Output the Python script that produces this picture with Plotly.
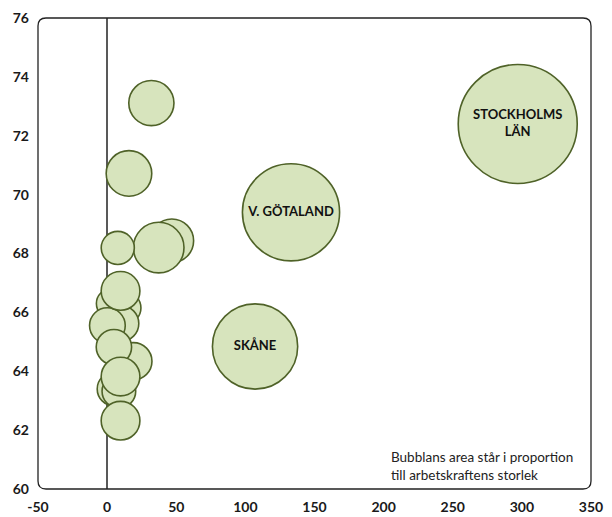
import plotly.graph_objects as go

# Data (drawing order: back to front)
names = ["", "", "", "", "",
         "STOCKHOLMS<br>LÄN", "V. GÖTALAND", "SKÅNE",
         "", "", "", "", "", "", "", "", "", "", ""]
x_vals = [46.8, 37.3, 7.7, 32.0, 15.8,
          297.0, 133.0, 107.0,
          13.0, 3.0, 10.0, 0.2, 9.7, 19.0, 4.9, 5.0, 8.5, 9.7, 9.7]
y_vals = [68.43, 68.20, 68.19, 73.11, 70.72,
          72.40, 69.40, 64.84,
          66.15, 66.30, 65.62, 65.55, 66.73, 64.34, 64.82, 63.40, 63.32, 63.82, 62.32]
labor_force = [161, 217, 93, 173, 176,
               1200, 800, 616,
               85, 75, 108, 108, 127, 117, 106, 96, 96, 127, 127]

x_ticks = [-50, 0, 50, 100, 150, 200, 250, 300, 350]
x_tick_text = ["-50", "0", "50", "100", "150", "200", "250", "300", "350"]
y_ticks = [60, 62, 64, 66, 68, 70, 72, 74, 76]
note = "Bubblans area står i proportion<br>till arbetskraftens storlek"

FONT = "Lato"
MAX_DIAM = 119

fig = go.Figure(go.Scatter(
    x=x_vals, y=y_vals, mode="markers+text", text=names,
    textposition="middle center",
    textfont=dict(family=FONT, size=13, color="#111111", weight="bold"),
    marker=dict(size=labor_force, sizemode="area",
                sizeref=2 * max(labor_force) / MAX_DIAM**2,
                color="#d7e4bd", opacity=1,
                line=dict(color="#4f6228", width=1.6)),
    hoverinfo="skip", showlegend=False, cliponaxis=False,
))

W, H = 612, 517
ml, mr, mt, mb = 38, 21, 18, 28
pw, ph = W - ml - mr, H - mt - mb
rx, ry = 8 / pw, 8 / ph
path = (f"M {rx},0 L {1-rx},0 Q 1,0 1,{ry} L 1,{1-ry} Q 1,1 {1-rx},1 "
        f"L {rx},1 Q 0,1 0,{1-ry} L 0,{ry} Q 0,0 {rx},0 Z")

fig.update_layout(
    width=W, height=H,
    margin=dict(l=ml, r=mr, t=mt, b=mb, autoexpand=False),
    paper_bgcolor="white", plot_bgcolor="white",
    xaxis=dict(range=[x_ticks[0], x_ticks[-1]], tickvals=x_ticks,
               ticktext=x_tick_text,
               showgrid=False, showline=False, automargin=False,
               zeroline=True, zerolinecolor="#595959", zerolinewidth=1.6,
               ticks="", ticklabelstandoff=8,
               tickfont=dict(family=FONT, size=14, color="#1a1a1a", weight="bold")),
    yaxis=dict(range=[y_ticks[0], y_ticks[-1]], tickvals=y_ticks,
               showgrid=False, showline=False, zeroline=False, automargin=False,
               ticks="", ticklabelstandoff=8,
               tickfont=dict(family=FONT, size=14, color="#1a1a1a", weight="bold")),
    shapes=[dict(type="path", xref="paper", yref="paper", path=path,
                 line=dict(color="#222222", width=1.3), layer="above")],
    annotations=[dict(text=note, xref="paper", yref="paper",
                      x=(389 - ml) / pw, y=(489 - 466) / ph,
                      xanchor="left", yanchor="middle", align="left",
                      showarrow=False,
                      font=dict(family=FONT, size=13.5, color="#222222"))],
)

fig.write_html("out.html", config={"displayModeBar": False},
               post_script="document.body.style.margin='0';document.body.style.padding='0';")
